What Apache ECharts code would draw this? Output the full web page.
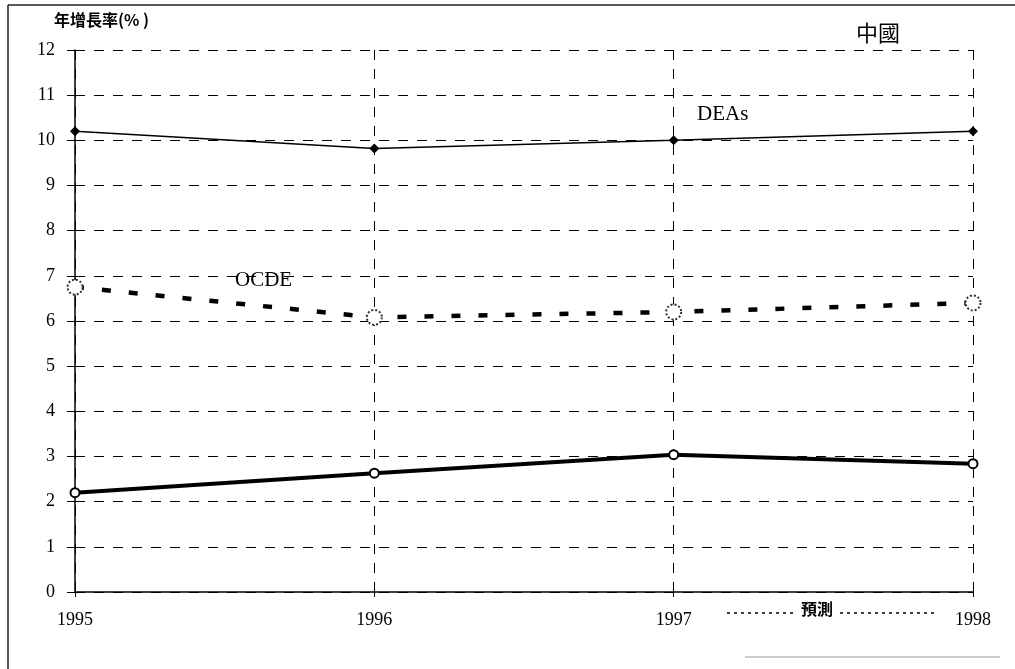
<!DOCTYPE html>
<html>
<head>
<meta charset="utf-8">
<script src="https://cdn.jsdelivr.net/npm/echarts@6/dist/echarts.min.js"></script>
<style>
  html, body { margin: 0; padding: 0; background: #fff; }
  #chart { width: 1015px; height: 669px; }
</style>
</head>
<body>
<div id="chart"></div>
<script>
// 年份與各組年增長率 (%)
const years = [1995, 1996, 1997, 1998];
const deas = [10.2, 9.82, 10.0, 10.2];
const ocde = [6.75, 6.08, 6.2, 6.4];
const china = [2.2, 2.63, 3.04, 2.84];
const yTicks = [0, 1, 2, 3, 4, 5, 6, 7, 8, 9, 10, 11, 12];

const chart = echarts.init(document.getElementById('chart'));

const serif = 'Liberation Serif';
const cjk = 'Noto Sans CJK TC';

function pairs(vals) {
  return years.map((y, i) => [y, vals[i]]);
}

chart.setOption({
  animation: false,
  grid: { left: 75, right: 42, top: 50, bottom: 77 },
  xAxis: {
    type: 'value',
    min: 1995,
    max: 1998,
    interval: 1,
    axisLine: { show: true, onZero: false, lineStyle: { color: '#000', width: 1.5 } },
    axisTick: { show: true, inside: false, length: 5, lineStyle: { color: '#000' } },
    axisLabel: {
      color: '#000', fontFamily: serif, fontSize: 18, margin: 19,
      formatter: v => String(v)
    },
    splitLine: { show: true, lineStyle: { color: '#000', type: [10, 9], width: 1 } }
  },
  yAxis: {
    type: 'value',
    min: yTicks[0],
    max: yTicks[yTicks.length - 1],
    interval: 1,
    axisLine: { show: true, lineStyle: { color: '#000', width: 1.5 } },
    axisTick: { show: true, length: 8, lineStyle: { color: '#000' } },
    axisLabel: { color: '#000', fontFamily: serif, fontSize: 18, margin: 20 },
    splitLine: { show: true, lineStyle: { color: '#000', type: [10, 9], width: 1 } }
  },
  series: [
    {
      name: 'DEAs',
      type: 'line',
      data: pairs(deas),
      symbol: 'diamond',
      symbolSize: 10,
      lineStyle: { color: '#000', width: 1.5 },
      itemStyle: { color: '#000' },
      z: 3
    },
    {
      name: 'OCDE',
      type: 'line',
      data: pairs(ocde),
      symbol: 'circle',
      symbolSize: 15,
      lineStyle: { color: '#000', width: 4.5, type: [9, 18] },
      itemStyle: { color: '#fff', borderColor: '#333', borderWidth: 2, borderType: [2, 2] },
      z: 3
    },
    {
      name: '中國',
      type: 'line',
      data: pairs(china),
      symbol: 'emptyCircle',
      symbolSize: 9,
      lineStyle: { color: '#000', width: 4 },
      itemStyle: { color: '#000', borderWidth: 2.5 },
      z: 4
    }
  ],
  graphic: [
    // 外框
    { type: 'line', shape: { x1: 8, y1: 5, x2: 1015, y2: 5 }, style: { stroke: '#222', lineWidth: 1.5 } },
    { type: 'line', shape: { x1: 8, y1: 5, x2: 8, y2: 669 }, style: { stroke: '#222', lineWidth: 1.5 } },
    { type: 'line', shape: { x1: 745, y1: 657, x2: 1000, y2: 657 }, style: { stroke: '#999', lineWidth: 1 } },
    // 文字標注
    { type: 'text', left: 54, top: 12, style: { text: '年增長率(% )', fontFamily: cjk, fontSize: 16, fontWeight: 'bold', fill: '#000' } },
    { type: 'text', left: 856, top: 22, style: { text: '中國', fontFamily: cjk, fontSize: 22, fill: '#000', backgroundColor: '#fff' } },
    { type: 'text', left: 697, top: 104, style: { text: 'DEAs', fontFamily: serif, fontSize: 21, fill: '#000' } },
    { type: 'text', left: 235, top: 270, style: { text: 'OCDE', fontFamily: serif, fontSize: 21, fill: '#000', backgroundColor: '#fff' } },
    { type: 'line', shape: { x1: 727, y1: 613, x2: 797, y2: 613 }, style: { stroke: '#000', lineWidth: 1.5, lineDash: [3, 4] } },
    { type: 'text', left: 801, top: 601, style: { text: '預測', fontFamily: cjk, fontSize: 16, fontWeight: 'bold', fill: '#000' } },
    { type: 'line', shape: { x1: 840, y1: 613, x2: 934, y2: 613 }, style: { stroke: '#000', lineWidth: 1.5, lineDash: [3, 4] } }
  ]
});
</script>
</body>
</html>
